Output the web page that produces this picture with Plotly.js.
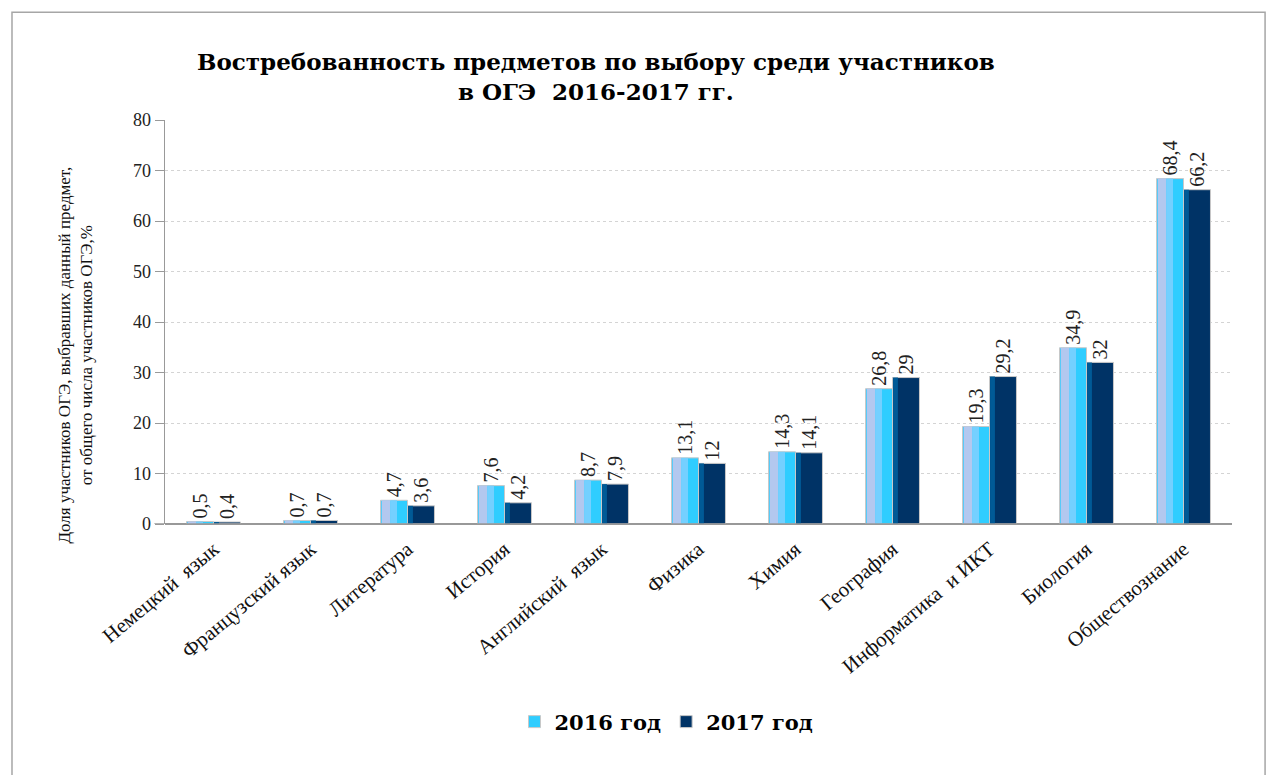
<!DOCTYPE html>
<html>
<head>
<meta charset="utf-8">
<script src="https://cdn.plot.ly/plotly-3.0.1.min.js"></script>
<style>body{margin:0;background:#fff}#chart{width:1276px;height:775px}</style>
</head>
<body>
<div id="chart"></div>
<script>
const categories = ["Немецкий  язык","Французский язык","Литература","История","Английский  язык","Физика","Химия","География","Информатика  и ИКТ","Биология","Обществознание"];
const values2016 = [0.5, 0.7, 4.7, 7.6, 8.7, 13.1, 14.3, 26.8, 19.3, 34.9, 68.4];
const values2017 = [0.4, 0.7, 3.6, 4.2, 7.9, 12, 14.1, 29, 29.2, 32, 66.2];
const seriesNames = ["2016 год", "2017 год"];
const yTitle = "Доля участников ОГЭ, выбравших данный предмет,<br>от общего числа участников ОГЭ,%";

const W = 0.278;
const labelFont = {family: "Liberation Serif, serif", size: 20, color: "#222"};

const traces = [
  {type:"bar", name:seriesNames[0], x:categories, y:values2016, offset:-W, width:W,
   marker:{color:"#2fcdff", line:{color:"#c8c8c8", width:1}},
   text:values2016.map(v=>String(v).replace(".", ",")), textposition:"outside", textangle:-90,
   constraintext:"none", textfont:labelFont, cliponaxis:false, hoverinfo:"skip"},
  {type:"bar", name:"s1", showlegend:false, x:categories, y:values2016, offset:-W+0.012, width:0.09,
   marker:{color:"#b3c8ef"}, hoverinfo:"skip"},
  {type:"bar", name:"s2", showlegend:false, x:categories, y:values2016, offset:-W+0.1, width:0.07,
   marker:{color:"#74d0ff"}, hoverinfo:"skip"},
  {type:"bar", name:seriesNames[1], x:categories, y:values2017, offset:0, width:W,
   marker:{color:"#003366", line:{color:"#c8c8c8", width:1}},
   text:values2017.map(v=>String(v).replace(".", ",")), textposition:"outside", textangle:-90,
   constraintext:"none", textfont:labelFont, cliponaxis:false, hoverinfo:"skip"},
  {type:"bar", name:"s3", showlegend:false, x:categories, y:values2017, offset:0.006, width:0.05,
   marker:{color:"#005a96"}, hoverinfo:"skip"}
];

const layout = {
  width:1276, height:775,
  margin:{l:165, r:44, t:120, b:251},
  paper_bgcolor:"#fff", plot_bgcolor:"#fff",
  barmode:"overlay",
  title:{text:"<b>Востребованность предметов по выбору среди участников<br>в ОГЭ  2016-2017 гг.</b>",
    font:{family:"DejaVu Serif, serif", size:23, color:"#000"}, x:0.467, xanchor:"center", y:0.91, yanchor:"top"},
  xaxis:{type:"category", tickangle:-40, showgrid:false, ticks:"", ticklabelstandoff:8,
    tickfont:{family:"Liberation Serif, serif", size:21, color:"#111"},
    showline:false, fixedrange:true},
  yaxis:{range:[0,80], dtick:10, showgrid:true, gridcolor:"#d4d4d4", griddash:"dot",
    showline:true, linecolor:"#999", linewidth:1.5, ticks:"outside", ticklen:9, tickcolor:"#999",
    tickfont:{family:"Liberation Serif, serif", size:18, color:"#222"},
    zeroline:true, zerolinecolor:"#999", zerolinewidth:1.5},
  annotations:[
    {text:yTitle, xref:"paper", yref:"paper", x:-0.084, y:0.418, xanchor:"center", yanchor:"middle",
     textangle:-90, showarrow:false, align:"center",
     font:{family:"Liberation Serif, serif", size:17, color:"#111"}}
  ],
  legend:{orientation:"h", x:0.47, xanchor:"center", y:-0.49, yanchor:"middle",
    font:{family:"DejaVu Serif, serif", size:21, color:"#000", weight:"bold"}, traceorder:"normal", itemwidth:30},
  shapes:[
    {type:"rect", xref:"paper", yref:"paper", x0:-0.1434, x1:1.031, y0:-0.65, y1:1.267,
     line:{color:"#a6a6a6", width:1.5}, fillcolor:"rgba(0,0,0,0)", layer:"below"},
    {type:"line", xref:"paper", yref:"y", x0:-0.01, x1:1, y0:0, y1:0, line:{color:"#999", width:1.5}}
  ],
  showlegend:true
};

Plotly.newPlot("chart", traces, layout, {displayModeBar:false, staticPlot:true});
</script>
</body>
</html>
